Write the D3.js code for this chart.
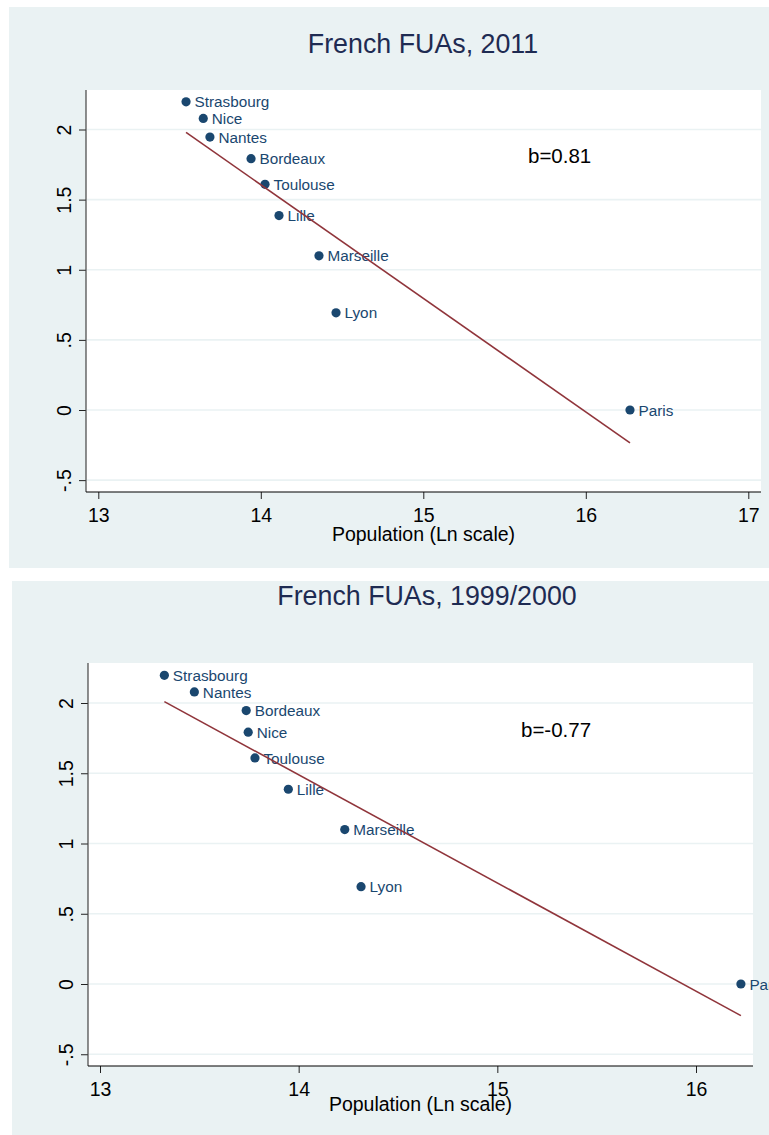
<!DOCTYPE html>
<html>
<head>
<meta charset="utf-8">
<script src="https://cdn.jsdelivr.net/npm/d3@7"></script>
<style>
  body { margin: 0; background: #fff; }
  svg { display: block; }
  text { font-family: "Liberation Sans", Arial, Helvetica, sans-serif; }
</style>
</head>
<body>
<svg id="chart" width="769" height="1135"></svg>
<script>
// Functional urban areas: log population vs. log rank
const cities2011 = ["Strasbourg", "Nice", "Nantes", "Bordeaux", "Toulouse", "Lille", "Marseille", "Lyon", "Paris"];
const lnPop2011  = [13.54, 13.646, 13.687, 13.94, 14.026, 14.112, 14.358, 14.463, 16.272];
const lnRank2011 = [2.197, 2.079, 1.946, 1.792, 1.609, 1.386, 1.099, 0.693, 0];
const slope2011 = -0.81;
const bLabel2011 = "b=0.81";

const cities1999 = ["Strasbourg", "Nantes", "Bordeaux", "Nice", "Toulouse", "Lille", "Marseille", "Lyon", "Paris"];
const lnPop1999  = [13.324, 13.475, 13.736, 13.746, 13.78, 13.948, 14.232, 14.314, 16.226];
const lnRank1999 = [2.197, 2.079, 1.946, 1.792, 1.609, 1.386, 1.099, 0.693, 0];
const slope1999 = -0.77;
const bLabel1999 = "b=-0.77";

const xTicks2011 = [13, 14, 15, 16, 17];
const xTicks1999 = [13, 14, 15, 16];
const yTicks = [-0.5, 0, 0.5, 1, 1.5, 2];
const yTickLabels = ["-.5", "0", ".5", "1", "1.5", "2"];

const COLORS = {
  graphBg: "#eaf2f3",
  grid: "#eaf2f3",
  marker: "#1a476f",
  fit: "#90353b",
  title: "#1e2b52",
  axis: "#000"
};

const svg = d3.select("#chart");

function drawPanel(cfg) {
  const g = svg.append("g");

  // graph region and plot region backgrounds
  g.append("rect")
    .attr("x", cfg.bg.x).attr("y", cfg.bg.y)
    .attr("width", cfg.bg.w).attr("height", cfg.bg.h)
    .attr("fill", COLORS.graphBg);
  g.append("rect")
    .attr("x", cfg.plot.x0).attr("y", cfg.plot.y0)
    .attr("width", cfg.plot.x1 - cfg.plot.x0).attr("height", cfg.plot.y1 - cfg.plot.y0)
    .attr("fill", "#fff");

  const x = d3.scaleLinear().domain(cfg.xDomain).range(cfg.xRange);
  const y = d3.scaleLinear().domain([0, 2]).range(cfg.yRange);

  // horizontal grid lines
  g.append("g").selectAll("line")
    .data(yTicks)
    .join("line")
    .attr("x1", cfg.plot.x0 + 1).attr("x2", cfg.plot.x1)
    .attr("y1", d => y(d)).attr("y2", d => y(d))
    .attr("stroke", COLORS.grid).attr("stroke-width", 1.6);

  // y axis
  const yAxis = d3.axisLeft(y)
    .tickValues(yTicks)
    .tickFormat((d, i) => yTickLabels[i])
    .tickSize(7)
    .tickSizeOuter(0);
  const yg = g.append("g")
    .attr("transform", `translate(${cfg.plot.x0},0)`)
    .call(yAxis);
  yg.select(".domain").remove();
  yg.selectAll(".tick line").attr("stroke", "#222").attr("stroke-width", 1);
  yg.selectAll(".tick text")
    .attr("x", null).attr("dy", null)
    .attr("text-anchor", "middle")
    .attr("transform", "translate(-15,0) rotate(-90)")
    .attr("fill", "#000")
    .attr("font-size", 19.5);

  // x axis
  const xAxis = d3.axisBottom(x)
    .tickValues(cfg.xTicks)
    .tickFormat(d3.format("d"))
    .tickSize(7)
    .tickSizeOuter(0);
  const xg = g.append("g")
    .attr("transform", `translate(0,${cfg.plot.y1})`)
    .call(xAxis);
  xg.select(".domain").remove();
  xg.selectAll(".tick line").attr("stroke", "#222").attr("stroke-width", 1);
  xg.selectAll(".tick text")
    .attr("y", 30).attr("dy", null)
    .attr("fill", "#000")
    .attr("font-size", 19.5);

  // axis lines
  g.append("line")
    .attr("x1", cfg.plot.x0).attr("x2", cfg.plot.x0)
    .attr("y1", cfg.plot.y0).attr("y2", cfg.plot.y1)
    .attr("stroke", "#444").attr("stroke-width", 1.2);
  g.append("line")
    .attr("x1", cfg.plot.x0).attr("x2", cfg.plot.x1)
    .attr("y1", cfg.plot.y1).attr("y2", cfg.plot.y1)
    .attr("stroke", COLORS.axis).attr("stroke-width", 1.2);

  // points with city labels
  const pts = cfg.cities.map((c, i) => ({ city: c, lp: cfg.lnPop[i], lr: cfg.lnRank[i] }));
  const pg = g.append("g");
  pg.selectAll("circle")
    .data(pts)
    .join("circle")
    .attr("cx", d => x(d.lp))
    .attr("cy", d => y(d.lr))
    .attr("r", 4.6)
    .attr("fill", COLORS.marker);
  pg.selectAll("text")
    .data(pts)
    .join("text")
    .attr("x", d => x(d.lp) + 8.5)
    .attr("y", d => y(d.lr) + 5.6)
    .attr("font-size", 15.3)
    .attr("fill", COLORS.marker)
    .text(d => d.city);

  // fitted line through the centroid with slope b
  const mx = d3.mean(cfg.lnPop), my = d3.mean(cfg.lnRank);
  const [xmin, xmax] = d3.extent(cfg.lnPop);
  const fit = [xmin, xmax].map(v => [v, my + cfg.slope * (v - mx)]);
  g.append("path")
    .datum(fit)
    .attr("d", d3.line().x(d => x(d[0])).y(d => y(d[1])))
    .attr("fill", "none")
    .attr("stroke", COLORS.fit)
    .attr("stroke-width", 1.6);

  // slope annotation
  g.append("text")
    .attr("x", cfg.bPos[0]).attr("y", cfg.bPos[1])
    .attr("font-size", 20.5)
    .attr("fill", "#000")
    .text(cfg.bLabel);

  // titles
  g.append("text")
    .attr("x", cfg.titlePos[0]).attr("y", cfg.titlePos[1])
    .attr("text-anchor", "middle")
    .attr("font-size", 26.8)
    .attr("fill", COLORS.title)
    .text(cfg.title);
  g.append("text")
    .attr("x", (cfg.plot.x0 + cfg.plot.x1) / 2).attr("y", cfg.xTitleY)
    .attr("text-anchor", "middle")
    .attr("font-size", 19.5)
    .attr("fill", "#000")
    .text("Population (Ln scale)");
}

drawPanel({
  bg: { x: 9, y: 7, w: 760, h: 561 },
  plot: { x0: 86, y0: 90, x1: 761, y1: 492 },
  xDomain: [13, 17], xRange: [98.3, 748.3],
  yRange: [410, 129.5],
  xTicks: xTicks2011,
  cities: cities2011, lnPop: lnPop2011, lnRank: lnRank2011,
  slope: slope2011, bLabel: bLabel2011, bPos: [528, 163],
  title: "French FUAs, 2011", titlePos: [423, 53],
  xTitleY: 541
});

drawPanel({
  bg: { x: 12, y: 581, w: 757, h: 554 },
  plot: { x0: 88, y0: 663, x1: 753, y1: 1066 },
  xDomain: [13, 16], xRange: [100, 696],
  yRange: [984, 703],
  xTicks: xTicks1999,
  cities: cities1999, lnPop: lnPop1999, lnRank: lnRank1999,
  slope: slope1999, bLabel: bLabel1999, bPos: [521, 737],
  title: "French FUAs, 1999/2000", titlePos: [427, 605],
  xTitleY: 1111
});
</script>
</body>
</html>
